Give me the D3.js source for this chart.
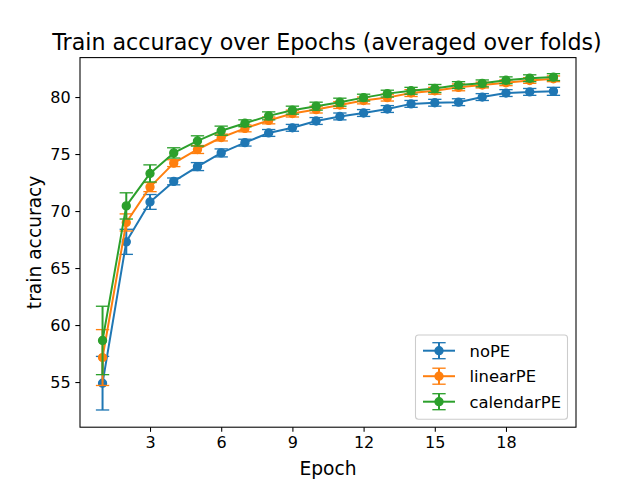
<!DOCTYPE html>
<html>
<head>
<meta charset="utf-8">
<script src="https://cdn.jsdelivr.net/npm/d3@7"></script>
<style>
  html, body { margin: 0; padding: 0; background: #fff; }
  svg { display: block; font-family: "DejaVu Sans", sans-serif; }
</style>
</head>
<body>
<svg id="chart" width="640" height="480"></svg>
<script>
// ---- data ----
const epochs = [1,2,3,4,5,6,7,8,9,10,11,12,13,14,15,16,17,18,19,20];
const seriesNames = ["noPE", "linearPE", "calendarPE"];
const noPE = [54.9, 67.3, 70.8, 72.6, 73.9, 75.1, 76.0, 76.85, 77.3, 77.9, 78.3, 78.6, 78.95, 79.4, 79.5, 79.55, 80.0, 80.35, 80.45, 80.5];
const noPEErr = [2.35, 1.1, 0.65, 0.3, 0.35, 0.35, 0.3, 0.3, 0.3, 0.3, 0.3, 0.3, 0.3, 0.3, 0.3, 0.3, 0.3, 0.3, 0.3, 0.35];
const linearPE = [57.15, 69.0, 72.1, 74.2, 75.4, 76.45, 77.25, 77.95, 78.55, 78.9, 79.3, 79.7, 79.95, 80.35, 80.55, 80.85, 81.05, 81.25, 81.45, 81.6];
const linearPEErr = [2.45, 0.75, 0.4, 0.3, 0.35, 0.3, 0.3, 0.3, 0.3, 0.3, 0.3, 0.3, 0.3, 0.3, 0.3, 0.3, 0.25, 0.25, 0.25, 0.25];
const calendarPE = [58.65, 70.45, 73.3, 75.1, 76.15, 77.05, 77.7, 78.35, 78.85, 79.2, 79.55, 79.95, 80.3, 80.55, 80.75, 81.05, 81.2, 81.47, 81.65, 81.75];
const calendarPEErr = [3.0, 1.15, 0.75, 0.45, 0.45, 0.4, 0.3, 0.35, 0.35, 0.35, 0.35, 0.3, 0.3, 0.3, 0.35, 0.3, 0.3, 0.3, 0.3, 0.3];
const xTicks = [3, 6, 9, 12, 15, 18];
const yTicks = [55, 60, 65, 70, 75, 80];
const colors = ["#1f77b4", "#ff7f0e", "#2ca02c"];
const titleText = "Train accuracy over Epochs (averaged over folds)";
const xLabel = "Epoch";
const yLabel = "train accuracy";

// ---- build ----
const series = [
  { name: seriesNames[0], vals: noPE, errs: noPEErr, color: colors[0] },
  { name: seriesNames[1], vals: linearPE, errs: linearPEErr, color: colors[1] },
  { name: seriesNames[2], vals: calendarPE, errs: calendarPEErr, color: colors[2] }
];

const svg = d3.select("#chart");
const L = 80, R = 576, T = 57.6, B = 427.2;

const x = d3.scaleLinear().domain([0.05, 20.95]).range([L, R]);
const y = d3.scaleLinear().domain([51.04, 83.46]).range([B, T]);

const capHalf = 6.67;

series.forEach(s => {
  const g = svg.append("g");
  const pts = epochs.map((e, i) => ({ e, v: s.vals[i], err: s.errs[i] }));
  // error bars
  g.selectAll("line.err").data(pts).enter().append("line")
    .attr("x1", d => x(d.e)).attr("x2", d => x(d.e))
    .attr("y1", d => y(d.v - d.err)).attr("y2", d => y(d.v + d.err))
    .attr("stroke", s.color).attr("stroke-width", 2);
  // caps
  ["lo", "hi"].forEach(k => {
    g.selectAll("line.cap" + k).data(pts).enter().append("line")
      .attr("x1", d => x(d.e) - capHalf).attr("x2", d => x(d.e) + capHalf)
      .attr("y1", d => y(k === "lo" ? d.v - d.err : d.v + d.err))
      .attr("y2", d => y(k === "lo" ? d.v - d.err : d.v + d.err))
      .attr("stroke", s.color).attr("stroke-width", 1.33);
  });
  // line
  g.append("path").datum(pts)
    .attr("d", d3.line().x(d => x(d.e)).y(d => y(d.v)))
    .attr("fill", "none").attr("stroke", s.color).attr("stroke-width", 2)
    .attr("stroke-linejoin", "round").attr("stroke-linecap", "square");
  // markers
  g.selectAll("circle").data(pts).enter().append("circle")
    .attr("cx", d => x(d.e)).attr("cy", d => y(d.v)).attr("r", 4)
    .attr("fill", s.color).attr("stroke", s.color).attr("stroke-width", 1.33);
});

// axes frame
svg.append("rect").attr("x", L).attr("y", T).attr("width", R - L).attr("height", B - T)
  .attr("fill", "none").attr("stroke", "#000").attr("stroke-width", 1.07);

// x axis
const xAxis = d3.axisBottom(x).tickValues(xTicks).tickSize(4.67).tickPadding(4.67).tickFormat(d3.format("d"));
const gx = svg.append("g").attr("transform", `translate(0,${B})`).call(xAxis);
gx.select(".domain").remove();
gx.selectAll(".tick line").attr("stroke", "#000").attr("stroke-width", 1.07);
gx.selectAll(".tick text").attr("font-size", 16).attr("font-family", "DejaVu Sans").attr("fill", "#000");

// y axis
const yAxis = d3.axisLeft(y).tickValues(yTicks).tickSize(4.67).tickPadding(4.67).tickFormat(d3.format("d"));
const gy = svg.append("g").attr("transform", `translate(${L},0)`).call(yAxis);
gy.select(".domain").remove();
gy.selectAll(".tick line").attr("stroke", "#000").attr("stroke-width", 1.07);
gy.selectAll(".tick text").attr("font-size", 16).attr("font-family", "DejaVu Sans").attr("fill", "#000");

// title & labels
svg.append("text").attr("x", (L + R) / 2 - 1).attr("y", 49.5).attr("text-anchor", "middle")
  .attr("font-size", 22.2).attr("fill", "#000").text(titleText);
svg.append("text").attr("x", (L + R) / 2).attr("y", 475).attr("text-anchor", "middle")
  .attr("font-size", 18.67).attr("fill", "#000").text(xLabel);
svg.append("text").attr("transform", `translate(41,${(T + B) / 2}) rotate(-90)`)
  .attr("text-anchor", "middle").attr("font-size", 18.67).attr("fill", "#000").text(yLabel);

// legend
const lg = svg.append("g");
lg.append("rect").attr("x", 415.5).attr("y", 335).attr("width", 152).attr("height", 84.3)
  .attr("rx", 3).attr("fill", "#fff").attr("fill-opacity", 0.8)
  .attr("stroke", "#cccccc").attr("stroke-width", 1.07);
series.forEach((s, i) => {
  const cy = 350.7 + i * 25.5;
  const hx = 439;
  lg.append("line").attr("x1", 423).attr("x2", 455).attr("y1", cy).attr("y2", cy)
    .attr("stroke", s.color).attr("stroke-width", 2);
  lg.append("line").attr("x1", hx).attr("x2", hx).attr("y1", cy - 8).attr("y2", cy + 8)
    .attr("stroke", s.color).attr("stroke-width", 2);
  [cy - 8, cy + 8].forEach(yy => {
    lg.append("line").attr("x1", hx - capHalf).attr("x2", hx + capHalf).attr("y1", yy).attr("y2", yy)
      .attr("stroke", s.color).attr("stroke-width", 1.33);
  });
  lg.append("circle").attr("cx", hx).attr("cy", cy).attr("r", 4)
    .attr("fill", s.color).attr("stroke", s.color).attr("stroke-width", 1.33);
  lg.append("text").attr("x", 469.5).attr("y", cy).attr("dy", "0.36em")
    .attr("font-size", 16.4).attr("fill", "#000").text(s.name);
});
</script>
</body>
</html>
